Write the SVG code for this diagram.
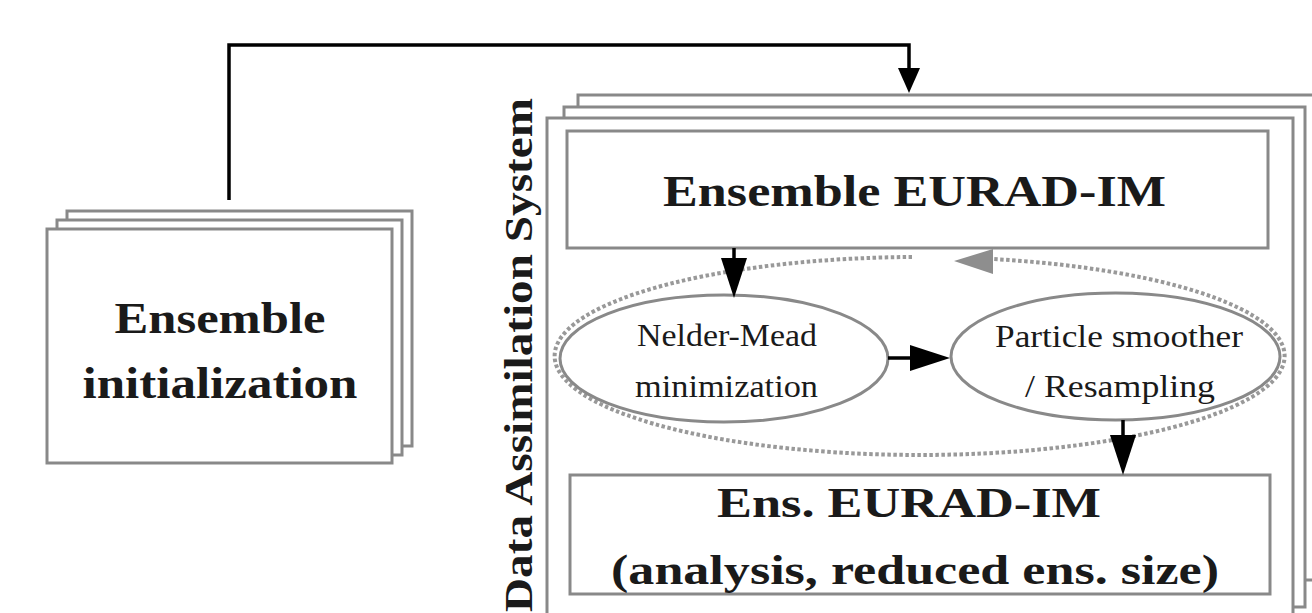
<svg xmlns="http://www.w3.org/2000/svg" width="1312" height="613" viewBox="0 0 1312 613">
  <defs>
    <style>
      .box { fill: #ffffff; stroke: #898989; stroke-width: 3; }
      .ell { fill: #ffffff; stroke: #898989; stroke-width: 3; }
      .conn { fill: none; stroke: #000000; stroke-width: 3.5; }
      .loop { fill: none; stroke: #999999; stroke-width: 4; stroke-dasharray: 3.5 2.5; }
      .bold { font-family: "Liberation Serif", "Times New Roman", serif; font-weight: bold; fill: #1a1a1a; text-anchor: middle; }
      .reg { font-family: "Liberation Serif", "Times New Roman", serif; font-weight: normal; fill: #1a1a1a; text-anchor: middle; font-size: 32px; }
    </style>
    <marker id="ah" markerUnits="userSpaceOnUse" viewBox="0 0 40 26" markerWidth="40" markerHeight="26" refX="0" refY="13" orient="auto">
      <path d="M0,0 L40,13 L0,26 z" fill="#000000"/>
    </marker>
    <marker id="ahs" markerUnits="userSpaceOnUse" viewBox="0 0 25 22" markerWidth="25" markerHeight="22" refX="0" refY="11" orient="auto">
      <path d="M0,0 L25,11 L0,22 z" fill="#000000"/>
    </marker>
  </defs>
  <rect width="1312" height="613" fill="#ffffff"/>

  <g id="ensemble-initialization">
    <rect class="box" x="67" y="211" width="345" height="235"/>
    <rect class="box" x="57" y="220" width="345" height="235"/>
    <rect class="box" x="47" y="229" width="345" height="234"/>
    <text class="bold" x="220" y="333" font-size="44" textLength="211" lengthAdjust="spacingAndGlyphs">Ensemble</text>
    <text class="bold" x="220" y="398" font-size="44" textLength="275" lengthAdjust="spacingAndGlyphs">initialization</text>
  </g>

  <g id="data-assimilation-system">
    <rect class="box" x="578" y="95" width="750" height="485"/>
    <rect class="box" x="564" y="107" width="741" height="500"/>
    <rect class="box" x="547" y="118" width="746" height="520"/>
    <text class="bold" transform="translate(532,355) rotate(-90)" x="0" y="0" font-size="40" textLength="514" lengthAdjust="spacingAndGlyphs">Data Assimilation System</text>
  </g>

  <g id="ensemble-eurad-im">
    <rect class="box" x="567" y="131" width="701" height="117"/>
    <text class="bold" x="914.5" y="206" font-size="44" textLength="503" lengthAdjust="spacingAndGlyphs">Ensemble EURAD-IM</text>
  </g>

  <g id="loop">
    <path class="loop" d="M912,257 A365,99 0 1 0 993,259"/>
    <polygon points="954,261 993,249 993,274" fill="#8e8e8e"/>
  </g>

  <g id="nelder-mead">
    <ellipse class="ell" cx="724" cy="358.5" rx="164" ry="63.5"/>
    <text class="reg" x="727" y="346" textLength="180" lengthAdjust="spacingAndGlyphs">Nelder-Mead</text>
    <text class="reg" x="726.5" y="397" textLength="183" lengthAdjust="spacingAndGlyphs">minimization</text>
  </g>

  <g id="particle-smoother">
    <ellipse class="ell" cx="1115.5" cy="356.5" rx="164.5" ry="63.5"/>
    <text class="reg" x="1119" y="347" textLength="248" lengthAdjust="spacingAndGlyphs">Particle smoother</text>
    <text class="reg" x="1120" y="397" textLength="190" lengthAdjust="spacingAndGlyphs">/ Resampling</text>
  </g>

  <g id="ens-eurad-im-analysis">
    <rect class="box" x="570" y="475" width="700" height="119"/>
    <text class="bold" x="909" y="517" font-size="42" textLength="384" lengthAdjust="spacingAndGlyphs">Ens. EURAD-IM</text>
    <text class="bold" x="915" y="584" font-size="42" textLength="608" lengthAdjust="spacingAndGlyphs">(analysis, reduced ens. size)</text>
  </g>

  <g id="connectors">
    <path class="conn" d="M229,200 V45 H909 V68" marker-end="url(#ahs)"/>
    <path class="conn" d="M734,248 V258" marker-end="url(#ah)"/>
    <path class="conn" d="M888,358 H910" marker-end="url(#ah)"/>
    <path class="conn" d="M1123,420 V435" marker-end="url(#ah)"/>
  </g>
</svg>
